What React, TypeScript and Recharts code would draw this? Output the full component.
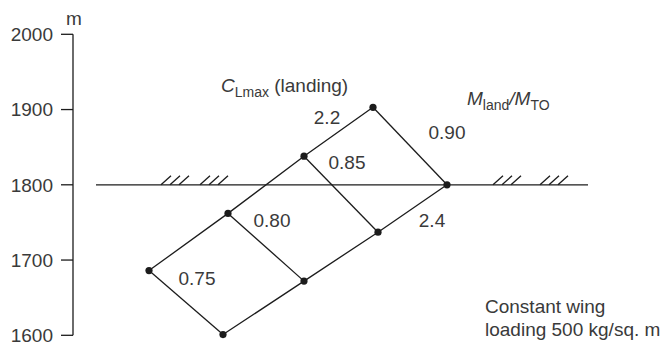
import React from 'react';
import { ComposedChart, Line, Scatter, XAxis, YAxis, ReferenceLine } from 'recharts';

// Carpet-plot nodes (x is an arbitrary carpet coordinate, y is altitude in m)
const nodeIds = ['A', 'B', 'C', 'D', 'E', 'F', 'G', 'H'];
const nodeX = [76, 150, 155, 231, 231, 305, 300, 374];
const nodeY = [1686, 1601, 1762, 1672, 1838, 1737, 1903, 1800];

// Lines of constant CLmax (landing)
const clmaxValues = ['2.2', '2.4'];
const clmaxLines = [['A', 'C', 'E', 'G'], ['B', 'D', 'F', 'H']];

// Lines of constant Mland/MTO
const massRatioValues = ['0.75', '0.80', '0.85', '0.90'];
const massRatioLines = [['A', 'B'], ['C', 'D'], ['E', 'F'], ['G', 'H']];

// Value label positions
const valueLabels = ['0.75', '0.80', '0.85', '0.90', '2.2', '2.4'];
const valueLabelX = [124, 199, 274, 374, 254, 359];
const valueLabelY = [1675, 1752, 1829, 1869, 1890, 1752];

// Field-length reference line at 1800 m
const refLineY = 1800;
const refLineX = [23, 515];
const hatchGroupStarts = [88, 127, 420, 467];
const hatchOffsets = [0, 9, 18];
const hatchDx = 10;
const hatchDy = 12;

const yTicks = [1600, 1700, 1800, 1900, 2000];

const FONT = '"Liberation Sans", Arial, Helvetica, sans-serif';
const TEXT = '#3a3a3a';
const INK = '#1c1c1c';

const nodeMap: Record<string, { x: number; y: number }> = {};
nodeIds.forEach((id, i) => {
  nodeMap[id] = { x: nodeX[i], y: nodeY[i] };
});
const pointsOf = (ids: string[]) => ids.map((id) => ({ x: nodeMap[id].x, y: nodeMap[id].y }));

const allNodes = nodeIds.map((id) => ({ x: nodeMap[id].x, y: nodeMap[id].y }));

const labelData = valueLabels.map((t, i) => ({ x: valueLabelX[i], y: valueLabelY[i], text: t, kind: 'value' }));
const annotationData = [
  { x: 148, y: 1923, text: 'clmax', kind: 'clmax' },
  { x: 394, y: 1906, text: 'mratio', kind: 'mratio' },
  { x: 412, y: 1630, text: 'note', kind: 'note' },
];

const hatchSegments: { x1: number; y1: number; x2: number; y2: number }[] = [];
hatchGroupStarts.forEach((g) => {
  hatchOffsets.forEach((o) => {
    hatchSegments.push({ x1: g + o, y1: refLineY, x2: g + o + hatchDx, y2: refLineY + hatchDy });
  });
});

const TextShape = (props: any) => {
  const { cx, cy, payload } = props;
  if (cx == null || cy == null) return null;
  if (payload.kind === 'value') {
    return (
      <text x={cx} y={cy} textAnchor="middle" dominantBaseline="central" fontFamily={FONT} fontSize={19} fill={TEXT}>
        {payload.text}
      </text>
    );
  }
  if (payload.kind === 'clmax') {
    return (
      <text x={cx} y={cy} fontFamily={FONT} fontSize={19} fill={TEXT}>
        <tspan fontStyle="italic">C</tspan>
        <tspan fontSize={14} dy={5}>Lmax</tspan>
        <tspan dy={-5}> (landing)</tspan>
      </text>
    );
  }
  if (payload.kind === 'mratio') {
    return (
      <text x={cx} y={cy} fontFamily={FONT} fontSize={19} fill={TEXT}>
        <tspan fontStyle="italic">M</tspan>
        <tspan fontSize={14} dy={5}>land</tspan>
        <tspan fontStyle="italic" dy={-5}>/M</tspan>
        <tspan fontSize={14} dy={5}>TO</tspan>
      </text>
    );
  }
  return (
    <text x={cx} y={cy} fontFamily={FONT} fontSize={19} fill={TEXT}>
      <tspan x={cx}>Constant wing</tspan>
      <tspan x={cx} dy={23}>loading 500 kg/sq. m</tspan>
    </text>
  );
};

const UnitLabel = (props: any) => {
  const vb = props.viewBox || {};
  return (
    <text x={(vb.x || 0) + (vb.width || 0) + 1} y={(vb.y || 0) - 9} textAnchor="middle" fontFamily={FONT} fontSize={19} fill={TEXT}>
      m
    </text>
  );
};

export default function App() {
  return (
    <div style={{ position: 'absolute', left: 0, top: 0, background: '#fff' }}>
      <ComposedChart width={666} height={344} margin={{ top: 34.3, right: 73, bottom: 8.7, left: 0 }}>
        <XAxis dataKey="x" type="number" domain={[0, 520]} hide />
        <YAxis
          dataKey="y"
          type="number"
          domain={[1600, 2000]}
          ticks={yTicks}
          interval={0}
          width={73}
          tickSize={12}
          tickMargin={8}
          axisLine={{ stroke: INK, strokeWidth: 1.3 }}
          tickLine={{ stroke: INK, strokeWidth: 1.3 }}
          tick={{ fontFamily: FONT, fontSize: 19, fill: TEXT }}
          label={<UnitLabel />}
        />
        <Line
          data={refLineX.map((x) => ({ x, y: refLineY }))}
          dataKey="y"
          stroke={INK}
          strokeWidth={1.3}
          dot={false}
          isAnimationActive={false}
        />
        {hatchSegments.map((s, i) => (
          <ReferenceLine
            key={'h' + i}
            segment={[{ x: s.x1, y: s.y1 }, { x: s.x2, y: s.y2 }]}
            stroke={INK}
            strokeWidth={1.3}
            ifOverflow="visible"
          />
        ))}
        {clmaxLines.map((ids, i) => (
          <Line
            key={'c' + clmaxValues[i]}
            data={pointsOf(ids)}
            dataKey="y"
            stroke={INK}
            strokeWidth={1.3}
            dot={false}
            isAnimationActive={false}
          />
        ))}
        {massRatioLines.map((ids, i) => (
          <Line
            key={'m' + massRatioValues[i]}
            data={pointsOf(ids)}
            dataKey="y"
            stroke={INK}
            strokeWidth={1.3}
            dot={false}
            isAnimationActive={false}
          />
        ))}
        <Scatter data={allNodes} dataKey="y" fill={INK} shape={(p: any) => <circle cx={p.cx} cy={p.cy} r={3.6} fill={INK} />} isAnimationActive={false} />
        <Scatter data={labelData} dataKey="y" shape={TextShape} isAnimationActive={false} />
        <Scatter data={annotationData} dataKey="y" shape={TextShape} isAnimationActive={false} />
      </ComposedChart>
    </div>
  );
}
